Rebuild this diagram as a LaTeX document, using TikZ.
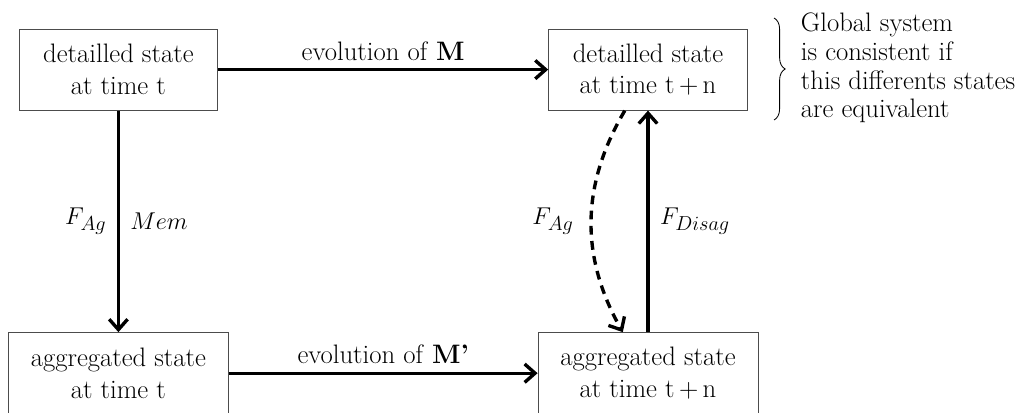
\documentclass[tikz,border=0pt]{standalone}
\usepackage{amsmath}
\usepackage{tikz}
\usetikzlibrary{positioning,arrows.meta,decorations.pathreplacing}

\begin{document}
\begin{tikzpicture}[
        font=\fontsize{19}{22.7}\selectfont,
        state/.style={rectangle, draw=black!70, line width=0.6pt, minimum width=4.97cm, minimum height=2.03cm, align=center, fill=white},
        aggstate/.style={state, minimum width=5.5cm},
        flow/.style={line width=2.4pt, -{Straight Barb[length=2.6mm, width=4.6mm]}},
        dflow/.style={flow, dash pattern=on 2.2mm off 1.6mm}
    ]
        \useasboundingbox (0, 0) rectangle (25.55, 10.3);

        % States
        \node[state] (dt) at (2.96, 8.56) {detailled state\\at time t};
        \node[state] (dtn) at (16.2, 8.56) {detailled state\\at time t\,+\,n};
        \node[aggstate] (at) at (2.96, 0.97) {aggregated state\\at time t};
        \node[aggstate] (atn) at (16.2, 0.97) {aggregated state\\at time t\,+\,n};

        % Evolutions
        \draw[flow] (dt.east) -- node[above=2pt] {evolution of \textbf{M}} (dtn.west);
        \draw[flow] (at.east) -- node[above=2pt] {evolution of \textbf{M'}} (atn.west);

        % Aggregation / disaggregation
        \draw[flow] (dt.south) -- node[left=4pt] {$F_{Ag}$} node[right=4pt] {$Mem$} (at.north);
        \draw[flow] (atn.north) -- node[right=4pt] {$F_{Disag}$} (dtn.south);
        \draw[dflow] ([xshift=-0.58cm]dtn.south) to[bend right=30] node[left=8pt] {$F_{Ag}$} ([xshift=-0.63cm]atn.north);

        % Consistency
        \coordinate (btop) at (19.35, 9.85);
        \coordinate (bbot) at (19.35, 7.3);
        \draw[decorate, decoration={brace, amplitude=0.28cm}, line width=0.6pt] (btop) -- (bbot);
        \node[anchor=west, align=left, font=\fontsize{19}{20.5}\selectfont] (note) at (19.9, 8.6) {Global system\\is consistent if\\this differents states\\are equivalent};
    \end{tikzpicture}
\end{document}
